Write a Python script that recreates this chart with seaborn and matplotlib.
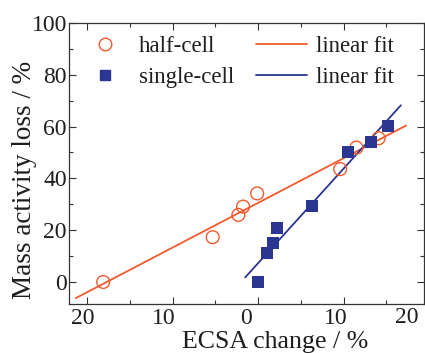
import numpy as np
import pandas as pd
import matplotlib
matplotlib.use("Agg")
import matplotlib.pyplot as plt
import seaborn as sns
from matplotlib.ticker import MultipleLocator, FixedLocator
import matplotlib.transforms as mtransforms
from matplotlib.lines import Line2D

# Data
half_x = [-18.1, -5.3, -2.3, -1.75, -0.1, 9.6, 11.5, 14.1]
half_y = [0.0, 17.3, 25.9, 29.1, 34.2, 43.6, 51.9, 55.5]
single_x = [0.0, 1.0, 1.7, 2.2, 6.35, 10.5, 13.2, 15.2]
single_y = [0.1, 11.3, 14.9, 21.0, 29.5, 50.1, 53.9, 60.4]
half_fit_range = [-21.3, 17.3]
single_fit_range = [-1.5, 16.7]
xtick_values = [-20, -10, 0, 10]
xtick_labels = ["20", "10", "0", "10"]
legend_labels = ["half-cell", "single-cell", "linear fit", "linear fit"]

orange = "#F15A2E"
navy = "#2B3592"
txt = "#1e1e1e"

sns.set_theme(style="ticks")
plt.rcParams["font.family"] = ["Liberation Serif", "DejaVu Serif"]

fig = plt.figure(figsize=(4.25, 3.53), dpi=100)
ax = fig.add_axes([69/425, 1 - 304/353, (424-69)/425, (304-23)/353])

df_half = pd.DataFrame({"x": half_x, "y": half_y})
df_single = pd.DataFrame({"x": single_x, "y": single_y})

# linear fits
ph = np.polyfit(half_x, half_y, 1)
ps = np.polyfit(single_x, single_y, 1)
fxh = np.array(half_fit_range)
fxs = np.array(single_fit_range)
sns.lineplot(x=fxh, y=np.polyval(ph, fxh), color=orange, lw=1.3, ax=ax)
sns.lineplot(x=fxs, y=np.polyval(ps, fxs), color=navy, lw=1.3, ax=ax)

sns.scatterplot(data=df_half, x="x", y="y", s=85, facecolors="none",
                edgecolor=orange, linewidth=1.0, zorder=3, ax=ax)
sns.scatterplot(data=df_single, x="x", y="y", s=70, marker="s", color=navy,
                linewidth=0, zorder=3, ax=ax)

ax.set_xlim(-22.1, 19.4)
ax.set_ylim(-8.5, 100)
ax.xaxis.set_major_locator(FixedLocator(xtick_values))
ax.set_xticklabels(xtick_labels)
ax.xaxis.set_minor_locator(MultipleLocator(5))
ax.yaxis.set_major_locator(MultipleLocator(20))
ax.yaxis.set_minor_locator(MultipleLocator(10))
ax.tick_params(which="both", direction="in", top=True, right=True, colors="#333333",
               labelcolor=txt)
ax.tick_params(which="major", length=5, width=0.8, labelsize=17)
ax.tick_params(axis="x", which="major", pad=3)
ax.tick_params(axis="y", which="major", pad=1.5)
ax.tick_params(which="minor", length=3, width=0.8)
for s in ax.spines.values():
    s.set_color("#333333")
    s.set_linewidth(0.9)

ax.set_xlabel("ECSA change / %", fontsize=18.6, color=txt)
ax.set_ylabel("Mass activity loss / %", fontsize=19.5, color=txt)
ax.xaxis.set_label_coords(0.582, -0.095)
ax.yaxis.set_label_coords(-0.09, 0.441)

handles = [
    Line2D([], [], ls="none", marker="o", mfc="none", mec=orange, ms=9, mew=1.0),
    Line2D([], [], ls="none", marker="s", color=navy, ms=7.5),
    Line2D([], [], color=orange, lw=1.3),
    Line2D([], [], color=navy, lw=1.3),
]
leg = ax.legend(handles, legend_labels, ncol=2, frameon=False, loc="upper left",
                bbox_to_anchor=(0.004, 0.986), fontsize=16.5, handlelength=2.23,
                handletextpad=0.36, columnspacing=0.96, labelspacing=0.42,
                borderaxespad=0)
for t in leg.get_texts():
    t.set_color(txt)

# tick labels in the reference sit slightly left of their ticks
fig.canvas.draw()
offsets_px = [-4.5, -9, -12, -8]
for lab, dx in zip(ax.get_xticklabels(), offsets_px):
    lab.set_transform(lab.get_transform() +
                      mtransforms.ScaledTranslation(dx / 100, 0, fig.dpi_scale_trans))

# partially visible "20" at the right edge (cropped in the reference)
trans = mtransforms.blended_transform_factory(ax.transData, ax.transAxes) + \
    mtransforms.ScaledTranslation(-22 / 100, -3 / 100, fig.dpi_scale_trans)
ax.text(20, 0, "20", transform=trans, ha="center", va="top", fontsize=17,
        color=txt, clip_on=False)

fig.savefig("out.png", dpi=100)
